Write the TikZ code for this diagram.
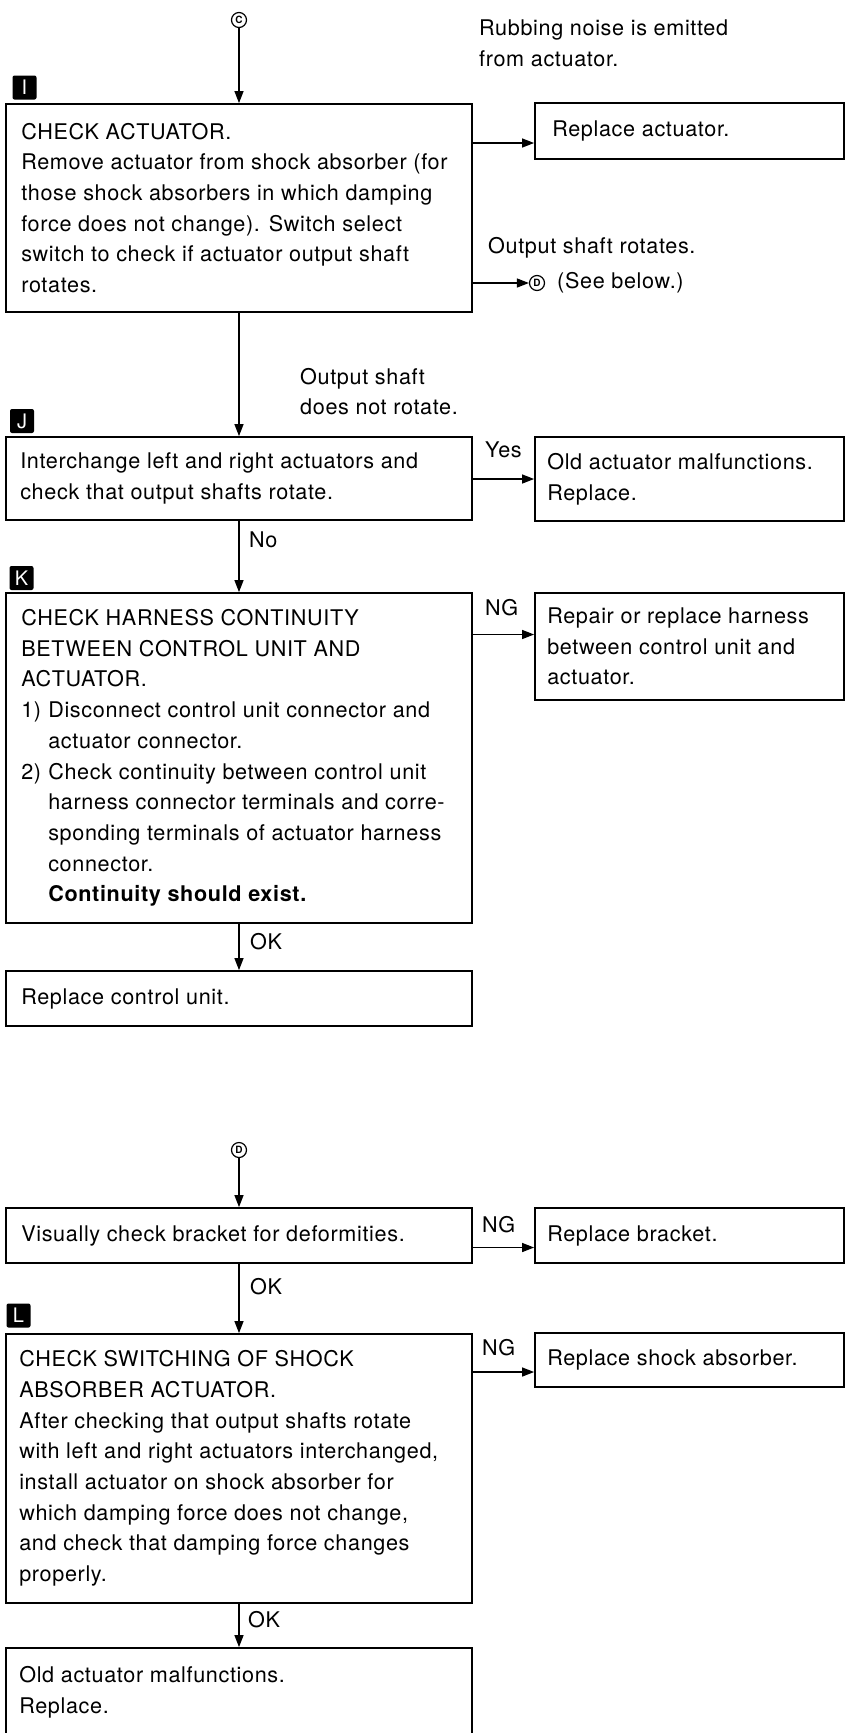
\documentclass[tikz,border=0pt]{standalone}
\usepackage{fontspec}
\setmainfont{TeX Gyre Heros}[LetterSpace=3]
\usetikzlibrary{arrows.meta}
\newcommand\mainsize{\fontsize{21.6}{30.7}\selectfont}
\newcommand\hang{\hspace*{27pt}}
\newcommand\itm[1]{\makebox[27pt][l]{#1}}
\tikzset{
  box/.style={draw, line width=1.8pt, inner sep=0pt},
  lbox/.style={box, minimum width=466pt},
  rbox/.style={box, minimum width=309pt},
  txt/.style={align=left, inner sep=0pt, anchor=west, font=\mainsize},
  lab/.style={fill=black, text=white, rounded corners=2pt, minimum size=24pt, inner sep=0pt, font=\fontsize{20}{20}\selectfont},
  conn/.style={line width=1.3pt},
  arr/.style={conn, -{Triangle[length=12pt,width=9pt]}},
  circ/.style={draw, circle, line width=1.2pt, minimum size=15pt, inner sep=0pt, font=\bfseries\fontsize{10}{10}\selectfont},
}
\begin{document}
\begin{tikzpicture}[x=1pt,y=-1pt]
\useasboundingbox[fill=white] (0,0) rectangle (849,1733);

% ---------- upper chart ----------
\node[circ] (C) at (239,20) {C};
\node[lab] (lI) at (24.5,87.5) {I};
\node[lbox, minimum height=208pt] (I) at (239,208) {};
\node[txt] (tI) at ([xshift=16pt]I.west) {CHECK ACTUATOR.\\Remove actuator from shock absorber (for\\those shock absorbers in which damping\\force does not change). Switch select\\switch to check if actuator output shaft\\rotates.};
\draw[arr] (C) -- (I.north);

\node[txt] (rub) at (479,43) {Rubbing noise is emitted\\from actuator.};
\node[rbox, minimum height=56pt] (RA) at (689.5,131) {};
\node[txt] (tRA) at ([xshift=18pt]RA.west) {Replace actuator.};
\draw[arr] ([yshift=-12pt]RA.west -| I.east) -- ([yshift=-12pt]RA.west);

\node[txt] (osr) at (488,248) {Output shaft rotates.};
\node[circ] (D1) at (537,283) {D};
\node[txt] (see) at (557,283) {(See below.)};
\draw[arr] (D1.west -| I.east) -- (D1.west);

\node[txt] (osn) at (300,391.5) {Output shaft\\does not rotate.};
\node[lab] (lJ) at (22,421) {J};
\node[lbox, minimum height=83pt] (J) at (239,478.5) {};
\node[txt] (tJ) at ([xshift=15pt]J.west) {Interchange left and right actuators and\\check that output shafts rotate.};
\draw[arr] (I.south) -- (J.north);

\node[rbox, minimum height=84pt] (OA) at (689.5,479) {};
\node[txt] (tOA) at ([xshift=13pt]OA.west) {Old actuator malfunctions.\\Replace.};
\node[txt] (yes) at (485,450) {Yes};
\draw[arr] (OA.west -| J.east) -- (OA.west);

\node[txt] (no) at (249,540) {No};
\node[lab] (lK) at (21.5,578) {K};
\node[lbox, minimum height=330pt] (K) at (239,758) {};
\node[txt] (tK) at ([xshift=16pt]K.west) {CHECK HARNESS CONTINUITY\\BETWEEN CONTROL UNIT AND\\ACTUATOR.\\\itm{1)}Disconnect control unit connector and\\\hang actuator connector.\\\itm{2)}Check continuity between control unit\\\hang harness connector terminals and corre-\\\hang sponding terminals of actuator harness\\\hang connector.\\\hang\textbf{Continuity should exist.}};
\draw[arr] (J.south) -- (K.north);

\node[rbox, minimum height=107pt] (RH) at (689.5,646.5) {};
\node[txt] (tRH) at ([xshift=13pt]RH.west) {Repair or replace harness\\between control unit and\\actuator.};
\node[txt] (ng1) at (485,608) {NG};
\draw[arr] ([yshift=12pt]RH.west -| K.east) -- ([yshift=12pt]RH.west);

\node[txt] (ok1) at (250,942) {OK};
\node[lbox, minimum height=55pt] (RCU) at (239,998.5) {};
\node[txt] (tRCU) at ([xshift=16pt]RCU.west) {Replace control unit.};
\draw[arr] (K.south) -- (RCU.north);

% ---------- lower chart ----------
\node[circ] (D2) at (239,1150) {D};
\node[lbox, minimum height=55pt] (V) at (239,1235.5) {};
\node[txt] (tV) at ([xshift=16pt]V.west) {Visually check bracket for deformities.};
\draw[arr] (D2) -- (V.north);

\node[rbox, minimum height=55pt] (RB) at (689.5,1235.5) {};
\node[txt] (tRB) at ([xshift=13pt]RB.west) {Replace bracket.};
\node[txt] (ng2) at (482,1225) {NG};
\draw[arr] ([yshift=-12pt]RB.west -| V.east) -- ([yshift=-12pt]RB.west);

\node[txt] (ok2) at (250,1287) {OK};
\node[lab] (lL) at (18.5,1315.5) {L};
\node[lbox, minimum height=269pt] (L) at (239,1468.5) {};
\node[txt] (tL) at ([xshift=14pt]L.west) {CHECK SWITCHING OF SHOCK\\ABSORBER ACTUATOR.\\After checking that output shafts rotate\\with left and right actuators interchanged,\\install actuator on shock absorber for\\which damping force does not change,\\and check that damping force changes\\properly.};
\draw[arr] (V.south) -- (L.north);

\node[rbox, minimum height=54pt] (RS) at (689.5,1360) {};
\node[txt] (tRS) at ([xshift=13pt]RS.west) {Replace shock absorber.};
\node[txt] (ng3) at (482,1348) {NG};
\draw[arr] ([yshift=-12pt]RS.west -| L.east) -- ([yshift=-12pt]RS.west);

\node[txt] (ok3) at (248,1620) {OK};
\node[lbox, minimum height=89pt] (Last) at (239,1692.5) {};
\node[txt] (tLast) at ([xshift=14pt]Last.west) {Old actuator malfunctions.\\Replace.};
\draw[arr] (L.south) -- (Last.north);
\end{tikzpicture}
\end{document}
